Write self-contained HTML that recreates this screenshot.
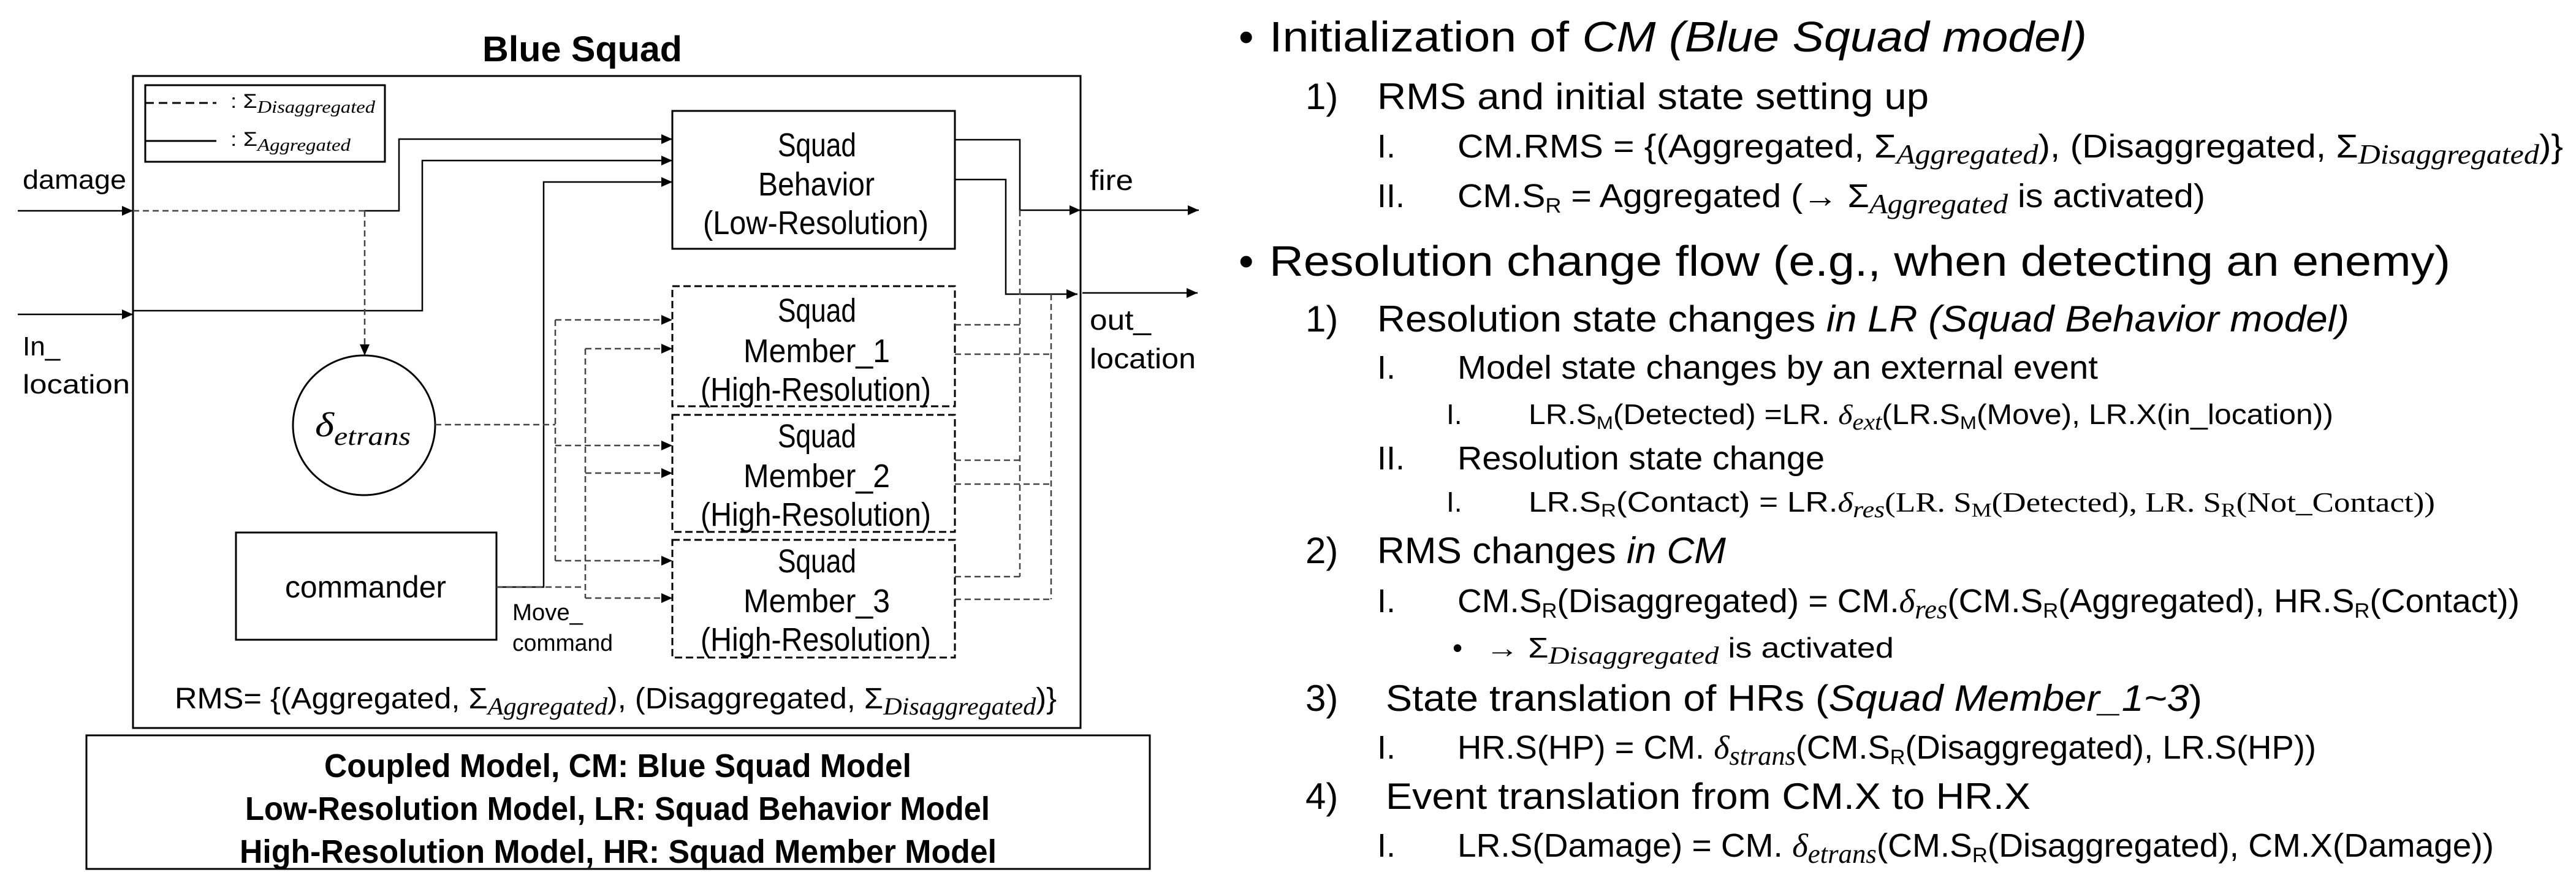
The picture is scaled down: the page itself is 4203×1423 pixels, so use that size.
<!DOCTYPE html>
<html><head><meta charset="utf-8"><style>
html,body{margin:0;padding:0;background:#fff;}
svg{display:block;}
text{font-family:"Liberation Sans",sans-serif;fill:#000;}
.b{font-weight:bold;}
.s{font-family:"Liberation Serif",serif;font-style:italic;}
</style></head><body>
<svg width="4203" height="1423" viewBox="0 0 4203 1423" xmlns="http://www.w3.org/2000/svg">
<defs>
<marker id="a" markerUnits="userSpaceOnUse" markerWidth="20" markerHeight="16" refX="18" refY="8" orient="auto"><path d="M0,0 L18,8 L0,16 Z" fill="#000"/></marker>
</defs>

<text class="b" x="787" y="100" font-size="58" textLength="326" lengthAdjust="spacingAndGlyphs">Blue Squad</text>

<rect x="217" y="124" width="1546" height="1064" fill="none" stroke="#000" stroke-width="3"/>
<rect x="237" y="139" width="391" height="125" fill="none" stroke="#000" stroke-width="3"/>
<line x1="237" y1="168" x2="353" y2="168" stroke="#000" stroke-width="3" stroke-dasharray="14 8"/>
<line x1="237" y1="230" x2="353" y2="230" stroke="#000" stroke-width="3"/>
<text x="376" y="176" font-size="32" textLength="236" lengthAdjust="spacingAndGlyphs">: Σ<tspan class="s" font-size="28" dy="8">Disaggregated</tspan></text>
<text x="376" y="238" font-size="32" textLength="196" lengthAdjust="spacingAndGlyphs">: Σ<tspan class="s" font-size="28" dy="8">Aggregated</tspan></text>

<text x="37" y="308" font-size="44" textLength="169" lengthAdjust="spacingAndGlyphs">damage</text>
<text x="37" y="580" font-size="44">In_</text>
<text x="37" y="642" font-size="44" textLength="175" lengthAdjust="spacingAndGlyphs">location</text>

<text x="1778" y="310" font-size="46" textLength="71" lengthAdjust="spacingAndGlyphs">fire</text>
<text x="1778" y="538" font-size="46" textLength="100" lengthAdjust="spacingAndGlyphs">out_</text>
<text x="1778" y="601" font-size="46" textLength="173" lengthAdjust="spacingAndGlyphs">location</text>

<rect x="1097" y="181" width="461" height="225" fill="none" stroke="#000" stroke-width="3"/>
<text x="1269" y="255" font-size="54" textLength="128" lengthAdjust="spacingAndGlyphs">Squad</text>
<text x="1237" y="319" font-size="54" textLength="190" lengthAdjust="spacingAndGlyphs">Behavior</text>
<text x="1147" y="382" font-size="54" textLength="368" lengthAdjust="spacingAndGlyphs">(Low-Resolution)</text>

<g fill="none" stroke="#000" stroke-width="3" stroke-dasharray="12 6">
<rect x="1097" y="467" width="461" height="196"/>
<rect x="1097" y="677" width="461" height="191"/>
<rect x="1097" y="881" width="461" height="192"/>
</g>
<text x="1269" y="525" font-size="54" textLength="128" lengthAdjust="spacingAndGlyphs">Squad</text>
<text x="1213" y="591" font-size="54" textLength="239" lengthAdjust="spacingAndGlyphs">Member_1</text>
<text x="1143" y="654" font-size="54" textLength="376" lengthAdjust="spacingAndGlyphs">(High-Resolution)</text>
<text x="1269" y="730" font-size="54" textLength="128" lengthAdjust="spacingAndGlyphs">Squad</text>
<text x="1213" y="795" font-size="54" textLength="239" lengthAdjust="spacingAndGlyphs">Member_2</text>
<text x="1143" y="858" font-size="54" textLength="376" lengthAdjust="spacingAndGlyphs">(High-Resolution)</text>
<text x="1269" y="934" font-size="54" textLength="128" lengthAdjust="spacingAndGlyphs">Squad</text>
<text x="1213" y="999" font-size="54" textLength="239" lengthAdjust="spacingAndGlyphs">Member_3</text>
<text x="1143" y="1062" font-size="54" textLength="376" lengthAdjust="spacingAndGlyphs">(High-Resolution)</text>

<ellipse cx="594" cy="694" rx="116" ry="114" fill="none" stroke="#000" stroke-width="3"/>
<text class="s" x="514" y="712" font-size="56" textLength="156" lengthAdjust="spacingAndGlyphs">δ<tspan font-size="42" dy="14">etrans</tspan></text>

<rect x="385" y="869" width="425" height="175" fill="none" stroke="#000" stroke-width="3"/>
<text x="465" y="975" font-size="50" textLength="263" lengthAdjust="spacingAndGlyphs">commander</text>
<text x="836" y="1012" font-size="38" textLength="115" lengthAdjust="spacingAndGlyphs">Move_</text>
<text x="836" y="1062" font-size="38" textLength="164" lengthAdjust="spacingAndGlyphs">command</text>

<g fill="none" stroke="#000" stroke-width="2.5">
<path d="M29 344 H217" marker-end="url(#a)"/>
<path d="M29 513 H217" marker-end="url(#a)"/>
<path d="M595 344 H651 V227 H1097" marker-end="url(#a)"/>
<path d="M217 507 H689 V262 H1097" marker-end="url(#a)"/>
<path d="M810 958 H887 V297 H1097" marker-end="url(#a)"/>
<path d="M1558 228 H1664 V343 H1763" marker-end="url(#a)"/>
<path d="M1763 343 H1956" marker-end="url(#a)"/>
<path d="M1558 293 H1641 V480 H1758" marker-end="url(#a)"/>
<path d="M1766 478 H1954" marker-end="url(#a)"/>
</g>
<g fill="none" stroke="#444" stroke-width="2.5" stroke-dasharray="10 6">
<path d="M217 344 H595"/>
<path d="M595 344 V580" marker-end="url(#a)"/>
<path d="M710 693 H906"/>
<path d="M906 522 V915"/>
<path d="M906 522 H1097" marker-end="url(#a)"/>
<path d="M906 727 H1097" marker-end="url(#a)"/>
<path d="M906 915 H1097" marker-end="url(#a)"/>
<path d="M810 958 H955"/>
<path d="M955 569 V976"/>
<path d="M955 569 H1097" marker-end="url(#a)"/>
<path d="M955 772 H1097" marker-end="url(#a)"/>
<path d="M955 976 H1097" marker-end="url(#a)"/>
<path d="M1558 530 H1664"/>
<path d="M1558 751 H1664"/>
<path d="M1558 941 H1664"/>
<path d="M1664 343 V941"/>
<path d="M1558 578 H1715"/>
<path d="M1558 790 H1715"/>
<path d="M1558 978 H1715"/>
<path d="M1715 480 V978"/>
</g>

<text x="285" y="1156" font-size="48" textLength="1439" lengthAdjust="spacingAndGlyphs">RMS= {(Aggregated, Σ<tspan class="s" font-size="40" dy="10">Aggregated</tspan><tspan dy="-10">), (Disaggregated, Σ</tspan><tspan class="s" font-size="40" dy="10">Disaggregated</tspan><tspan dy="-10">)}</tspan></text>

<rect x="141" y="1200" width="1735" height="218" fill="none" stroke="#000" stroke-width="3"/>
<text class="b" x="529" y="1268" font-size="54" textLength="958" lengthAdjust="spacingAndGlyphs">Coupled Model, CM: Blue Squad Model</text>
<text class="b" x="400" y="1338" font-size="54" textLength="1215" lengthAdjust="spacingAndGlyphs">Low-Resolution Model, LR: Squad Behavior Model</text>
<text class="b" x="391" y="1408" font-size="54" textLength="1235" lengthAdjust="spacingAndGlyphs">High-Resolution Model, HR: Squad Member Model</text>

<text x="2021" y="84" font-size="70">•</text>
<text x="2071" y="84" font-size="70" textLength="1334" lengthAdjust="spacingAndGlyphs">Initialization of <tspan font-style="italic">CM (Blue Squad model)</tspan></text>
<text x="2130" y="178" font-size="60">1)</text>
<text x="2247" y="178" font-size="60" textLength="900" lengthAdjust="spacingAndGlyphs">RMS and initial state setting up</text>
<text x="2247" y="257" font-size="54">I.</text>
<text x="2378" y="257" font-size="54" textLength="1804" lengthAdjust="spacingAndGlyphs">CM.RMS = {(Aggregated, Σ<tspan class="s" font-size="46" dy="10">Aggregated</tspan><tspan dy="-10">), (Disaggregated, Σ</tspan><tspan class="s" font-size="46" dy="10">Disaggregated</tspan><tspan dy="-10">)}</tspan></text>
<text x="2247" y="338" font-size="54">II.</text>
<text x="2378" y="338" font-size="54" textLength="1220" lengthAdjust="spacingAndGlyphs">CM.S<tspan font-size="34" dy="9">R</tspan><tspan dy="-9"> = Aggregated (→ Σ</tspan><tspan class="s" font-size="46" dy="10">Aggregated</tspan><tspan dy="-10"> is activated)</tspan></text>

<text x="2021" y="450" font-size="70">•</text>
<text x="2071" y="450" font-size="70" textLength="1927" lengthAdjust="spacingAndGlyphs">Resolution change flow (e.g., when detecting an enemy)</text>
<text x="2130" y="541" font-size="60">1)</text>
<text x="2247" y="541" font-size="60" textLength="1586" lengthAdjust="spacingAndGlyphs">Resolution state changes <tspan font-style="italic">in LR (Squad Behavior model)</tspan></text>
<text x="2247" y="618" font-size="54">I.</text>
<text x="2378" y="618" font-size="54" textLength="1045" lengthAdjust="spacingAndGlyphs">Model state changes by an external event</text>
<text x="2360" y="692" font-size="46">I.</text>
<text x="2494" y="692" font-size="46" textLength="1313" lengthAdjust="spacingAndGlyphs">LR.S<tspan font-size="30" dy="8">M</tspan><tspan dy="-8">(Detected) =LR. </tspan><tspan class="s">δ</tspan><tspan class="s" font-size="38" dy="9">ext</tspan><tspan dy="-9">(LR.S</tspan><tspan font-size="30" dy="8">M</tspan><tspan dy="-8">(Move), LR.X(in_location))</tspan></text>
<text x="2247" y="766" font-size="54">II.</text>
<text x="2378" y="766" font-size="54" textLength="599" lengthAdjust="spacingAndGlyphs">Resolution state change</text>
<text x="2360" y="835" font-size="46">I.</text>
<text x="2494" y="835" font-size="46" textLength="1479" lengthAdjust="spacingAndGlyphs">LR.S<tspan font-size="30" dy="8">R</tspan><tspan dy="-8">(Contact) = LR.</tspan><tspan class="s">δ</tspan><tspan class="s" font-size="38" dy="9">res</tspan><tspan dy="-9" font-family="Liberation Serif">(LR. S</tspan><tspan font-family="Liberation Serif" font-size="32" dy="8">M</tspan><tspan dy="-8" font-family="Liberation Serif">(Detected), LR. S</tspan><tspan font-family="Liberation Serif" font-size="32" dy="8">R</tspan><tspan dy="-8" font-family="Liberation Serif">(Not_Contact))</tspan></text>
<text x="2130" y="919" font-size="60">2)</text>
<text x="2247" y="919" font-size="60" textLength="569" lengthAdjust="spacingAndGlyphs">RMS changes <tspan font-style="italic">in CM</tspan></text>
<text x="2247" y="999" font-size="54">I.</text>
<text x="2378" y="999" font-size="54" textLength="1733" lengthAdjust="spacingAndGlyphs">CM.S<tspan font-size="34" dy="9">R</tspan><tspan dy="-9">(Disaggregated) = CM.</tspan><tspan class="s">δ</tspan><tspan class="s" font-size="44" dy="10">res</tspan><tspan dy="-10">(CM.S</tspan><tspan font-size="34" dy="9">R</tspan><tspan dy="-9">(Aggregated), HR.S</tspan><tspan font-size="34" dy="9">R</tspan><tspan dy="-9">(Contact))</tspan></text>
<text x="2370" y="1073" font-size="46">•</text>
<text x="2424" y="1073" font-size="46" textLength="666" lengthAdjust="spacingAndGlyphs">→ Σ<tspan class="s" font-size="40" dy="10">Disaggregated</tspan><tspan dy="-10"> is activated</tspan></text>
<text x="2130" y="1160" font-size="60">3)</text>
<text x="2261" y="1160" font-size="60" textLength="1332" lengthAdjust="spacingAndGlyphs">State translation of HRs (<tspan font-style="italic">Squad Member_1~3</tspan>)</text>
<text x="2247" y="1238" font-size="54">I.</text>
<text x="2378" y="1238" font-size="54" textLength="1401" lengthAdjust="spacingAndGlyphs">HR.S(HP) = CM. <tspan class="s">δ</tspan><tspan class="s" font-size="44" dy="10">strans</tspan><tspan dy="-10">(CM.S</tspan><tspan font-size="34" dy="9">R</tspan><tspan dy="-9">(Disaggregated), LR.S(HP))</tspan></text>
<text x="2130" y="1320" font-size="60">4)</text>
<text x="2261" y="1320" font-size="60" textLength="1052" lengthAdjust="spacingAndGlyphs">Event translation from CM.X to HR.X</text>
<text x="2247" y="1398" font-size="54">I.</text>
<text x="2378" y="1398" font-size="54" textLength="1691" lengthAdjust="spacingAndGlyphs">LR.S(Damage) = CM. <tspan class="s">δ</tspan><tspan class="s" font-size="44" dy="10">etrans</tspan><tspan dy="-10">(CM.S</tspan><tspan font-size="34" dy="9">R</tspan><tspan dy="-9">(Disaggregated), CM.X(Damage))</tspan></text>
</svg>
</body></html>
